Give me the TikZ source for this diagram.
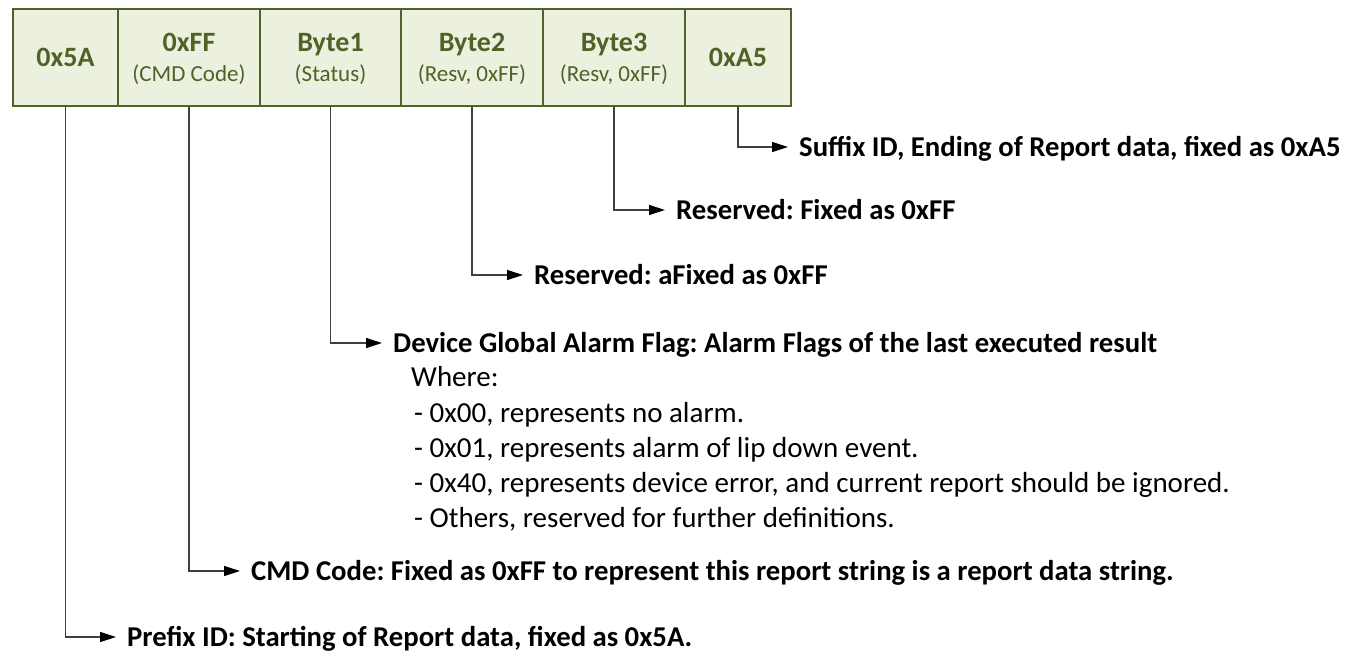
\documentclass[tikz,border=0pt]{standalone}
\usepackage{fontspec}
\setmainfont{Carlito}
\usetikzlibrary{arrows.meta}
\frenchspacing
\definecolor{cellfill}{HTML}{EBF1DE}
\definecolor{celledge}{HTML}{4F6228}
\definecolor{wirecol}{HTML}{404040}
\tikzset{
  cell/.style={draw=celledge, fill=cellfill, line width=1.3pt, minimum height=97pt, inner sep=0pt,
    font=\bfseries\fontsize{28}{31}\selectfont, text=celledge},
  hd/.style={font=\bfseries\fontsize{28}{31}\selectfont, text=celledge, inner sep=0pt, text height=18pt, text depth=0pt},
  subhd/.style={font=\fontsize{23}{26}\selectfont, text=celledge, inner sep=0pt, text height=14.8pt, text depth=0pt},
  desc/.style={font=\bfseries\fontsize{28.7}{32}\selectfont, anchor=west, inner sep=0pt, text height=18.2pt, text depth=0pt},
  note/.style={font=\fontsize{29}{32}\selectfont, anchor=west, inner sep=0pt, text height=18.4pt, text depth=0pt},
  wire/.style={draw=wirecol, line width=1.2pt, -{Triangle[length=16pt,width=10pt,color=black]}, shorten >=11pt},
}
\begin{document}
\begin{tikzpicture}[x=1pt, y=-1pt]
  \useasboundingbox (0,0) rectangle (1348,653);
  % frame cells
  \node[cell, minimum width=105pt] (c5A) at (65.5,57.5) {0x5A};
  \node[cell, minimum width=142pt] (cFF) at (189,57.5) {};
  \node[cell, minimum width=141pt] (cB1) at (330.5,57.5) {};
  \node[cell, minimum width=142pt] (cB2) at (472,57.5) {};
  \node[cell, minimum width=142pt] (cB3) at (614,57.5) {};
  \node[cell, minimum width=106pt] (cA5) at (738,57.5) {0xA5};
  \node[hd] (hFF) at (189,42) {0xFF};
  \node[subhd] (sFF) at (189,74.5) {(CMD Code)};
  \node[hd] (hB1) at (330.5,42) {Byte1};
  \node[subhd] (sB1) at (330.5,74.5) {(Status)};
  \node[hd] (hB2) at (472,42) {Byte2};
  \node[subhd] (sB2) at (472,74.5) {(Resv, 0xFF)};
  \node[hd] (hB3) at (614,42) {Byte3};
  \node[subhd] (sB3) at (614,74.5) {(Resv, 0xFF)};
  % descriptions
  \node[desc] (dA5) at (799,147) {Suffix ID, Ending of Report data, fixed as 0xA5};
  \node[desc] (dB3) at (676,210) {Reserved: Fixed as 0xFF};
  \node[desc] (dB2) at (534,275) {Reserved: aFixed as 0xFF};
  \node[desc] (dB1) at (393,343) {Device Global Alarm Flag: Alarm Flags of the last executed result};
  \node[note] (w0) at (411,377) {Where:};
  \node[note] (w1) at (414,413) {- 0x00, represents no alarm.};
  \node[note] (w2) at (414,448) {- 0x01, represents alarm of lip down event.};
  \node[note] (w3) at (414,483) {- 0x40, represents device error, and current report should be ignored.};
  \node[note] (w4) at (414,518) {- Others, reserved for further definitions.};
  \node[desc] (dFF) at (251,571) {CMD Code: Fixed as 0xFF to represent this report string is a report data string.};
  \node[desc] (d5A) at (127,637) {Prefix ID: Starting of Report data, fixed as 0x5A.};
  % connectors
  \draw[wire] (cA5.south) |- (dA5.west);
  \draw[wire] (cB3.south) |- (dB3.west);
  \draw[wire] (cB2.south) |- (dB2.west);
  \draw[wire] (cB1.south) |- (dB1.west);
  \draw[wire] (cFF.south) |- (dFF.west);
  \draw[wire] (c5A.south) |- (d5A.west);
\end{tikzpicture}
\end{document}
